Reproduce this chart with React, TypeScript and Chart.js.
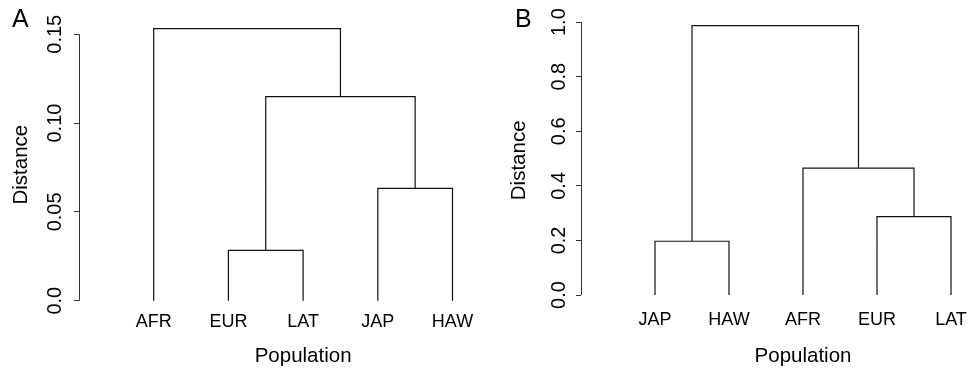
import React, { useEffect, useRef } from 'react';
import { Chart, registerables } from 'chart.js';

Chart.register(...registerables);

const FONT = "'Liberation Sans', Arial, Helvetica, sans-serif";

// Panel A data
const leavesA = ['AFR', 'EUR', 'LAT', 'JAP', 'HAW'];
const mergeA = [[-2, -3], [-4, -5], [1, 2], [-1, 3]];
const heightA = [0.0283, 0.0632, 0.1149, 0.1532];
const ticksA = [0, 0.05, 0.1, 0.15];
const tickLabelsA = ['0.0', '0.05', '0.10', '0.15'];

// Panel B data
const leavesB = ['JAP', 'HAW', 'AFR', 'EUR', 'LAT'];
const mergeB = [[-1, -2], [-4, -5], [-3, 2], [1, 3]];
const heightB = [0.197, 0.287, 0.465, 0.987];
const ticksB = [0, 0.2, 0.4, 0.6, 0.8, 1.0];
const tickLabelsB = ['0.0', '0.2', '0.4', '0.6', '0.8', '1.0'];

function dendroPoints(merge: number[][], height: number[]) {
  const pos: number[] = [];
  const pts: { x: number; y: number | null }[] = [];
  merge.forEach(([a, b], i) => {
    const xa = a < 0 ? -a : pos[a - 1];
    const ya = a < 0 ? 0 : height[a - 1];
    const xb = b < 0 ? -b : pos[b - 1];
    const yb = b < 0 ? 0 : height[b - 1];
    pts.push({ x: xa, y: ya }, { x: xa, y: height[i] }, { x: xb, y: height[i] }, { x: xb, y: yb }, { x: xb, y: null });
    pos[i] = (xa + xb) / 2;
  });
  return pts;
}

type Cfg = {
  left: number;
  w: number;
  leaves: string[];
  merge: number[][];
  height: number[];
  ticks: number[];
  tickLabels: string[];
  yMin: number;
  yMax: number;
  padTop: number;
  padRight: number;
  yAxisW: number;
  xAxisH: number;
  yTickPad: number;
  xTickPad: number;
  yTitlePad: number;
  letter: string;
  letterX: number;
};

const panelA: Cfg = {
  left: 0, w: 535, leaves: leavesA, merge: mergeA, height: heightA, ticks: ticksA, tickLabels: tickLabelsA,
  yMin: -0.00613, yMax: 0.15933, padTop: 17.7, padRight: 7.8, yAxisW: 79, xAxisH: 58.4,
  yTickPad: -1.2, xTickPad: -0.5, yTitlePad: 9, letter: 'A', letterX: 12,
};

const panelB: Cfg = {
  left: 490, w: 545, leaves: leavesB, merge: mergeB, height: heightB, ticks: ticksB, tickLabels: tickLabelsB,
  yMin: -0.0395, yMax: 1.0265, padTop: 14.05, padRight: 10, yAxisW: 91, xAxisH: 64.2,
  yTickPad: 2.9, xTickPad: 3.4, yTitlePad: 17.5, letter: 'B', letterX: 25,
};

function Panel({ cfg }: { cfg: Cfg }) {
  const ref = useRef<HTMLCanvasElement>(null);
  useEffect(() => {
    const axisLine = {
      id: 'axisLine',
      afterDraw(chart: any) {
        const y = chart.scales.y;
        const ctx = chart.ctx;
        const x = Math.round(chart.chartArea.left) + 0.5;
        ctx.save();
        ctx.strokeStyle = '#333';
        ctx.lineWidth = 1;
        ctx.beginPath();
        ctx.moveTo(x, y.getPixelForValue(cfg.ticks[0]));
        ctx.lineTo(x, y.getPixelForValue(cfg.ticks[cfg.ticks.length - 1]));
        ctx.stroke();
        ctx.restore();
      },
    };
    const letter = {
      id: 'panelLetter',
      afterDraw(chart: any) {
        const ctx = chart.ctx;
        ctx.save();
        ctx.fillStyle = '#000';
        ctx.font = `25px ${FONT}`;
        ctx.textBaseline = 'alphabetic';
        ctx.textAlign = 'left';
        ctx.fillText(cfg.letter, cfg.letterX, 26.7);
        ctx.restore();
      },
    };
    const chart = new Chart(ref.current as HTMLCanvasElement, {
      type: 'line',
      data: {
        datasets: [
          {
            data: dendroPoints(cfg.merge, cfg.height) as any,
            borderColor: '#111',
            borderWidth: 1.2,
            pointRadius: 0,
            fill: false,
            tension: 0,
            spanGaps: false,
            clip: false as any,
          },
        ],
      },
      options: {
        animation: false,
        responsive: false,
        devicePixelRatio: 1,
        events: [],
        layout: { padding: { top: cfg.padTop, right: cfg.padRight, left: 0, bottom: 0 } },
        plugins: { legend: { display: false }, tooltip: { enabled: false } },
        scales: {
          x: {
            type: 'linear',
            min: 0,
            max: 6,
            grid: { display: false, drawTicks: false },
            border: { display: false },
            afterBuildTicks: (s: any) => {
              s.ticks = cfg.leaves.map((_, i) => ({ value: i + 1 }));
            },
            ticks: {
              autoSkip: false,
              maxRotation: 0,
              padding: cfg.xTickPad,
              color: '#000',
              font: { family: FONT, size: 18 },
              callback: (v: any) => cfg.leaves[Math.round(Number(v)) - 1] ?? '',
            },
            title: {
              display: true,
              text: 'Population',
              color: '#000',
              font: { family: FONT, size: 20.5 },
              padding: { top: 0, bottom: 1.5 },
            },
            afterFit: (s: any) => {
              s.height = cfg.xAxisH;
            },
          },
          y: {
            type: 'linear',
            min: cfg.yMin,
            max: cfg.yMax,
            grid: { display: true, drawOnChartArea: false, drawTicks: true, tickLength: 5, color: '#333', lineWidth: 1 },
            border: { display: false },
            afterBuildTicks: (s: any) => {
              s.ticks = cfg.ticks.map((v) => ({ value: v }));
            },
            ticks: {
              autoSkip: false,
              minRotation: 90,
              maxRotation: 90,
              crossAlign: 'center',
              padding: cfg.yTickPad,
              color: '#000',
              font: { family: FONT, size: 20 },
              callback: (_v: any, i: number) => cfg.tickLabels[i],
            },
            title: {
              display: true,
              text: 'Distance',
              color: '#000',
              font: { family: FONT, size: 20.5 },
              padding: { top: cfg.yTitlePad, bottom: 0 },
            },
            afterFit: (s: any) => {
              s.width = cfg.yAxisW;
            },
          },
        },
      } as any,
      plugins: [axisLine, letter],
    });
    return () => chart.destroy();
  }, []);
  return (
    <canvas
      ref={ref}
      width={cfg.w}
      height={370}
      style={{ position: 'absolute', left: cfg.left, top: 0, width: cfg.w, height: 370 }}
    />
  );
}

export default function App() {
  return (
    <div
      style={{
        position: 'absolute',
        left: 0,
        top: 0,
        width: 971,
        height: 370,
        overflow: 'hidden',
        background: '#fff',
      }}
    >
      <Panel cfg={panelA} />
      <Panel cfg={panelB} />
    </div>
  );
}
